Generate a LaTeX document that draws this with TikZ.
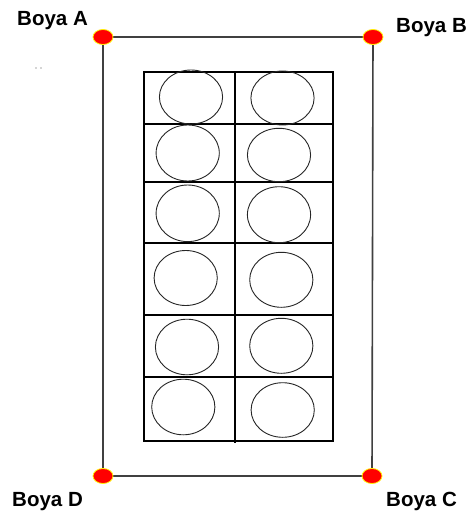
\documentclass[tikz,border=0pt]{standalone}
\usepackage{fontspec}
\setmainfont{Liberation Sans}
\usetikzlibrary{shapes.geometric}
\begin{document}
\begin{tikzpicture}[x=1pt,y=-1pt,
  buoy/.style={ellipse,draw=yellow,fill=red,line width=0.8pt,minimum width=20pt,minimum height=15pt,inner sep=0pt},
  lbl/.style={anchor=base west,inner sep=0pt,font=\fontsize{20.5}{24}\selectfont\bfseries},
  boundary/.style={draw=black!75,line width=1.6pt},
  gridline/.style={draw=black,line width=1.2pt},
  cage/.style={draw=black!85,line width=0.9pt}]
\useasboundingbox (0,0) rectangle (470,514);
\fill[white] (0,0) rectangle (470,514);
% buoy positions
\coordinate (pA) at (103,37);
\coordinate (pB) at (373,37);
\coordinate (pC) at (372,476);
\coordinate (pD) at (103,476);
\draw[boundary] (pA) -- (pB) -- (pC) -- (pD) -- cycle;
\node[buoy] (A) at (pA) {};
\node[buoy] (B) at (pB) {};
\node[buoy] (C) at (pC) {};
\node[buoy] (D) at (pD) {};
\node[lbl] (lA) at (17,25) {Boya A};
\node[lbl] (lB) at (396,32) {Boya B};
\node[lbl] (lC) at (386,506) {Boya C};
\node[lbl] (lD) at (12,506) {Boya D};
% stray dots
\fill[black!70] (36,68) circle (0.6);
\fill[black!70] (41,68) circle (0.6);
% grid
\draw[gridline] (144,72) rectangle (333,441);
\draw[gridline] (235,72) -- (235,443);
\foreach \y in {124,182,243,315,377}
  \draw[gridline] (144,\y) -- (333,\y);
% cages
\foreach \cx/\cy/\ry in {191/97/27, 282.5/98/27, 187.7/153/28, 279/155/26.7, 187.7/213.3/28.3, 279/214.7/28,
  185.7/278/27.5, 281.3/279.8/27.5, 187/347/27.8, 281.3/345.8/27.5, 183.3/407/27.8, 282.7/410/27.3}
  \draw[cage] (\cx,\cy) ellipse [x radius=31.6, y radius=\ry];
\end{tikzpicture}
\end{document}
